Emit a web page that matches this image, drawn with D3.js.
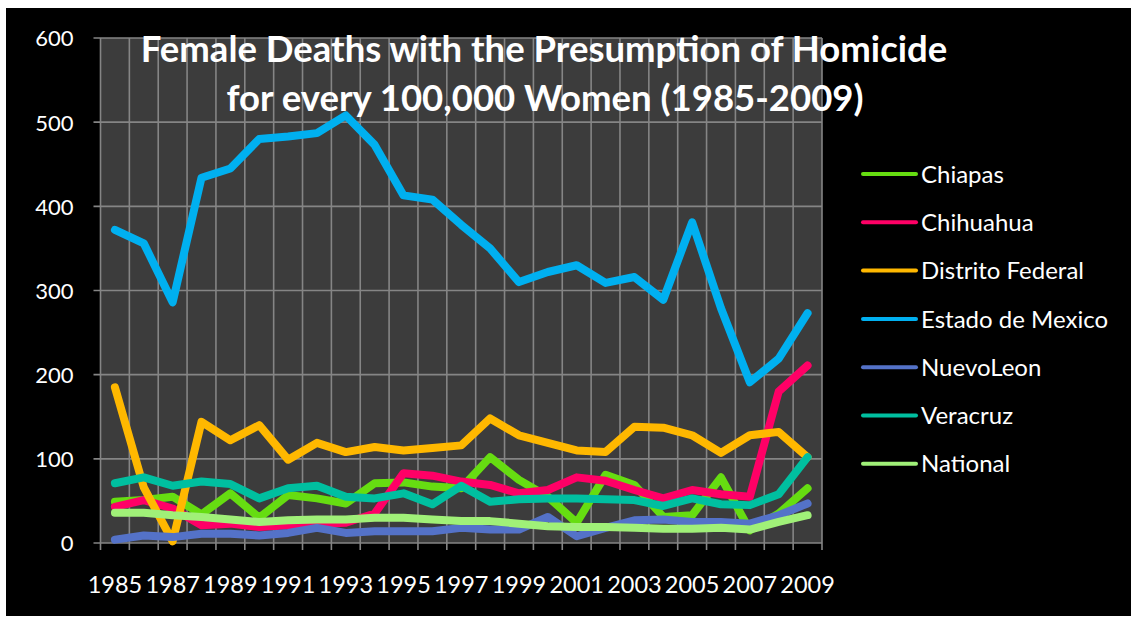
<!DOCTYPE html>
<html>
<head>
<meta charset="utf-8">
<script src="https://cdn.jsdelivr.net/npm/d3@7"></script>
<style>
  body { margin: 0; background: #fff; }
  svg text { font-family: Lato, "Open Sans", sans-serif; fill: #fff; }
</style>
</head>
<body>
<svg width="1131" height="622"></svg>
<script>
// years on the category axis
const years = d3.range(1985, 2010);

// values (deaths per 100,000 women)
const chiapas   = [49, 51, 55, 34, 59, 30, 57, 53, 47, 71, 72, 67, 65, 102, 75, 55, 24, 81, 69, 31, 33, 78, 15, 35, 65];
const chihuahua = [43, 51, 41, 21, 23, 19, 21, 23, 24, 35, 83, 80, 73, 69, 59, 63, 78, 74, 63, 53, 63, 58, 55, 180, 211];
const distrito  = [185, 66, 2, 144, 122, 140, 99, 119, 108, 114, 110, 113, 116, 148, 128, 119, 110, 108, 138, 137, 128, 107, 128, 132, 102];
const estado    = [372, 356, 286, 434, 445, 480, 483, 487, 508, 473, 413, 408, 378, 350, 310, 322, 330, 309, 316, 289, 381, 279, 191, 219, 273];
const nuevoLeon = [4, 9, 7, 11, 11, 9, 12, 18, 12, 14, 14, 14, 18, 16, 16, 31, 8, 18, 27, 28, 25, 25, 23, 33, 47];
const veracruz  = [71, 78, 68, 73, 70, 53, 65, 68, 55, 53, 59, 46, 68, 49, 52, 53, 53, 52, 51, 44, 53, 46, 45, 58, 102];
const national  = [36, 36, 33, 31, 28, 25, 27, 28, 28, 30, 30, 28, 26, 26, 23, 20, 19, 19, 18, 17, 17, 18, 16, 25, 33];

const seriesNames = ["Chiapas", "Chihuahua", "Distrito Federal", "Estado de Mexico", "NuevoLeon", "Veracruz", "National"];
const seriesColors = ["#66dd11", "#ff0066", "#ffb800", "#00b0f0", "#5472c8", "#00bfa0", "#a0f078"];
const yTicks = [0, 100, 200, 300, 400, 500, 600];

const series = [chiapas, chihuahua, distrito, estado, nuevoLeon, veracruz, national].map((vals, i) => ({
    name: seriesNames[i],
    color: seriesColors[i],
    values: vals
}));

const plot = {left: 100.5, right: 822, top: 38, bottom: 543};

const svg = d3.select('svg');

// black chart background
svg.append('rect')
    .attr('x', 6).attr('y', 8)
    .attr('width', 1125).attr('height', 608)
    .attr('fill', '#000');

const x = d3.scaleBand().domain(years).range([plot.left, plot.right]).padding(0);
const xEdge = d3.scaleLinear().domain([0, years.length]).range([plot.left, plot.right]);
const y = d3.scaleLinear().domain([0, 600]).range([plot.bottom, plot.top]);

// plot area
svg.append('rect')
    .attr('x', plot.left).attr('y', plot.top)
    .attr('width', plot.right - plot.left).attr('height', plot.bottom - plot.top)
    .attr('fill', '#3c3c3c');

const grid = svg.append('g').attr('stroke', '#858585').attr('stroke-width', 1.6);

// vertical gridlines on category boundaries, with tick marks below
grid.selectAll('.vg').data(d3.range(0, years.length + 1)).enter()
    .append('line')
    .attr('x1', d => xEdge(d)).attr('x2', d => xEdge(d))
    .attr('y1', plot.top).attr('y2', plot.bottom + 7);

// horizontal gridlines, with tick marks left
grid.selectAll('.hg').data(yTicks).enter()
    .append('line')
    .attr('x1', plot.left - 7).attr('x2', plot.right)
    .attr('y1', d => y(d)).attr('y2', d => y(d));

// y axis labels
const yAxis = d3.axisLeft(y).tickValues(yTicks).tickSize(0).tickPadding(27);
const ya = svg.append('g').attr('transform', 'translate(' + plot.left + ',0)').call(yAxis);
ya.select('.domain').remove();
ya.selectAll('text').style('font-size', '22px').attr('fill', '#fff').attr('dy', '0.36em');

// x axis labels every other year
const xAxis = d3.axisBottom(x).tickValues(years.filter(d => (d - 1985) % 2 == 0)).tickSize(0).tickPadding(0);
const xa = svg.append('g').attr('transform', 'translate(0,' + plot.bottom + ')').call(xAxis);
xa.select('.domain').remove();
xa.selectAll('text').style('font-size', '23.5px').attr('fill', '#fff').attr('y', 50).attr('dy', 0);

// the lines
const line = d3.line()
    .x((d, i) => x(years[i]) + x.bandwidth() / 2)
    .y(d => y(d));

svg.append('g').selectAll('path').data(series).enter()
    .append('path')
    .attr('fill', 'none')
    .attr('stroke', d => d.color)
    .attr('stroke-width', 8)
    .attr('stroke-linecap', 'round')
    .attr('stroke-linejoin', 'round')
    .attr('d', d => line(d.values));

// title
const title = svg.append('text')
    .attr('text-anchor', 'middle')
    .style('font-size', '36.5px')
    .style('font-weight', 'bold');
title.append('tspan').attr('x', 544).attr('y', 62).text('Female Deaths with the Presumption of Homicide');
title.append('tspan').attr('x', 545).attr('y', 111).text('for every 100,000 Women (1985-2009)');

// legend
const legend = svg.append('g').selectAll('g').data(series).enter()
    .append('g')
    .attr('transform', (d, i) => 'translate(863,' + (174 + i * 48.3) + ')');

legend.append('line')
    .attr('x1', 0).attr('x2', 53)
    .attr('stroke', d => d.color)
    .attr('stroke-width', 4)
    .attr('stroke-linecap', 'round');

legend.append('text')
    .attr('x', 58)
    .attr('dy', '0.36em')
    .style('font-size', '24px')
    .text(d => d.name);
</script>
</body>
</html>
